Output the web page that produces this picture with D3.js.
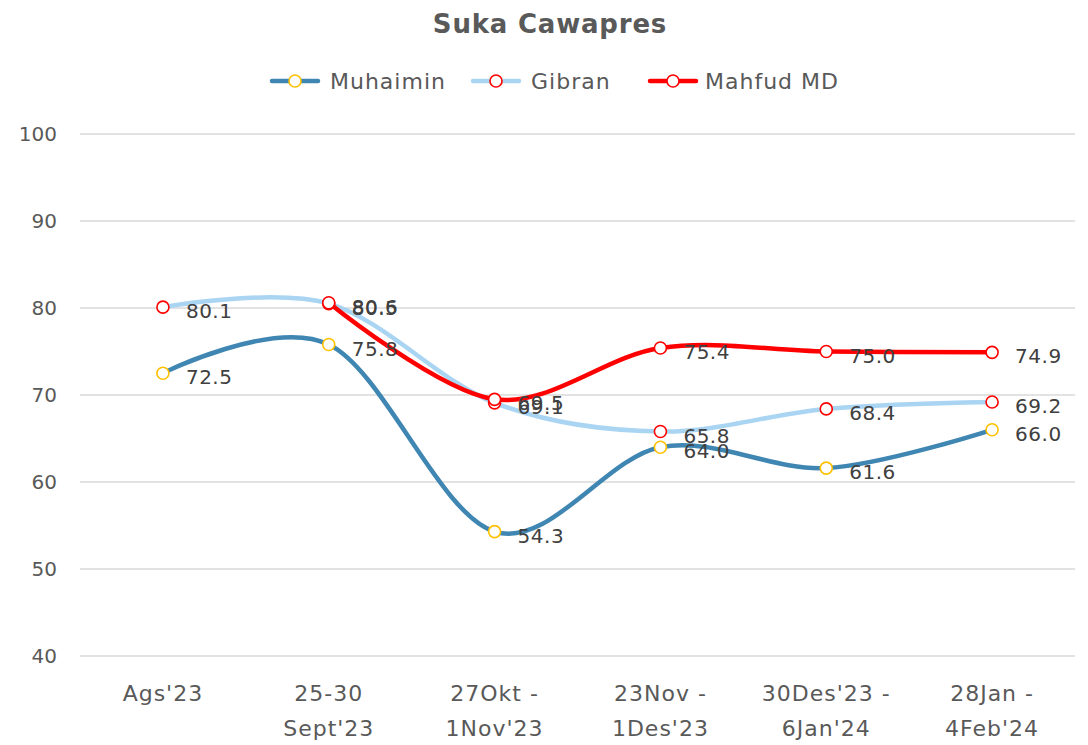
<!DOCTYPE html>
<html>
<head>
<meta charset="utf-8">
<script src="https://cdn.jsdelivr.net/npm/d3@7"></script>
<style>
  body { margin: 0; background: #fff; }
  svg { display: block; font-family: "Century Gothic", "URW Gothic", "DejaVu Sans", sans-serif; }
</style>
</head>
<body>
<svg id="chart" width="1088" height="745"></svg>
<script>
// Survey periods (two-line axis labels)
const categories = [
  ["Ags'23"],
  ["25-30", "Sept'23"],
  ["27Okt -", "1Nov'23"],
  ["23Nov -", "1Des'23"],
  ["30Des'23 -", "6Jan'24"],
  ["28Jan -", "4Feb'24"]
];
const muhaimin = [72.5, 75.8, 54.3, 64.0, 61.6, 66.0];
const gibran   = [80.1, 80.5, 69.1, 65.8, 68.4, 69.2];
const mahfud   = [null, 80.6, 69.5, 75.4, 75.0, 74.9];
const yTicks = [40, 50, 60, 70, 80, 90, 100];

const series = [
  { name: "Muhaimin",  values: muhaimin, line: "#3F86B2", marker: "#FFC000" },
  { name: "Gibran",    values: gibran,   line: "#A9D5F3", marker: "#FF0000" },
  { name: "Mahfud MD", values: mahfud,   line: "#FF0000", marker: "#FF0000" }
];

const svg = d3.select("#chart");
const plotLeft = 80, plotRight = 1075, plotTop = 134, plotBottom = 656;

const x = d3.scalePoint().domain(d3.range(categories.length)).range([plotLeft, plotRight]).padding(0.5);
const y = d3.scaleLinear().domain([40, 100]).range([plotBottom, plotTop]);

// Gridlines
svg.append("g").selectAll("line").data(yTicks).join("line")
  .attr("x1", plotLeft).attr("x2", plotRight)
  .attr("y1", d => y(d)).attr("y2", d => y(d))
  .attr("stroke", "#D9D9D9").attr("stroke-width", 1.3);

// Y axis labels
svg.append("g").selectAll("text").data(yTicks).join("text")
  .attr("x", 57).attr("y", d => y(d)).attr("dy", "0.35em")
  .attr("text-anchor", "end").attr("font-size", 20).attr("fill", "#595959")
  .text(d => d);

// X axis labels
const xl = svg.append("g").selectAll("text").data(categories).join("text")
  .attr("x", (d, i) => x(i)).attr("y", 701)
  .attr("text-anchor", "middle").attr("font-size", 22).attr("letter-spacing", 1)
  .attr("fill", "#595959");
xl.selectAll("tspan").data(d => d).join("tspan")
  .attr("x", function() { return d3.select(this.parentNode).attr("x"); })
  .attr("dy", (d, j) => j === 0 ? 0 : 35)
  .text(d => d);

// Title
svg.append("text").attr("x", 550).attr("y", 33).attr("text-anchor", "middle")
  .attr("font-size", 26).attr("font-weight", "bold").attr("letter-spacing", 0.8)
  .attr("fill", "#595959")
  .text("Suka Cawapres");

// Lines
const line = d3.line()
  .x(d => x(d.i)).y(d => y(d.v))
  .curve(d3.curveCardinal.tension(0));

series.forEach(s => {
  const pts = s.values.map((v, i) => ({ v, i })).filter(p => p.v != null);
  svg.append("path").datum(pts)
    .attr("d", line).attr("fill", "none")
    .attr("stroke", s.line).attr("stroke-width", 4.5)
    .attr("stroke-linecap", "round");
});

// Markers
series.forEach(s => {
  svg.append("g").selectAll("circle")
    .data(s.values.map((v, i) => ({ v, i })).filter(p => p.v != null))
    .join("circle")
    .attr("cx", d => x(d.i)).attr("cy", d => y(d.v)).attr("r", 6)
    .attr("fill", "#fff").attr("stroke", s.marker).attr("stroke-width", 1.6);
});

// Value labels
series.forEach(s => {
  svg.append("g").selectAll("text")
    .data(s.values.map((v, i) => ({ v, i })).filter(p => p.v != null))
    .join("text")
    .attr("x", d => x(d.i) + 23).attr("y", d => y(d.v) + 4).attr("dy", "0.35em")
    .attr("font-size", 20).attr("letter-spacing", 0.5).attr("fill", "#404040")
    .text(d => d.v.toFixed(1));
});

// Legend
const legendItems = [
  { s: series[0], x0: 272, tx: 330 },
  { s: series[1], x0: 473, tx: 531 },
  { s: series[2], x0: 650, tx: 705 }
];
const lg = svg.append("g");
legendItems.forEach(it => {
  lg.append("line").attr("x1", it.x0).attr("x2", it.x0 + 46).attr("y1", 81).attr("y2", 81)
    .attr("stroke", it.s.line).attr("stroke-width", 4.5).attr("stroke-linecap", "round");
  lg.append("circle").attr("cx", it.x0 + 23).attr("cy", 81).attr("r", 6)
    .attr("fill", "#fff").attr("stroke", it.s.marker).attr("stroke-width", 1.6);
  lg.append("text").attr("x", it.tx).attr("y", 81).attr("dy", "0.35em")
    .attr("font-size", 22).attr("letter-spacing", 1).attr("fill", "#595959").text(it.s.name);
});
</script>
</body>
</html>
